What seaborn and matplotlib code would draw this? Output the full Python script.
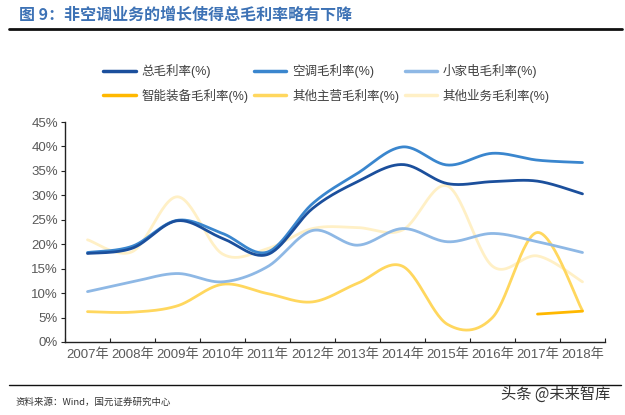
import numpy as np
import pandas as pd
import seaborn as sns
import matplotlib.pyplot as plt
from matplotlib.lines import Line2D

# data (percent)
years = ['2007年', '2008年', '2009年', '2010年', '2011年', '2012年',
         '2013年', '2014年', '2015年', '2016年', '2017年', '2018年']
total_margin = [18.1, 19.2, 24.8, 21.2, 17.9, 27.3, 32.8, 36.3, 32.4, 32.8, 32.9, 30.3]
ac_margin = [18.3, 19.6, 24.9, 22.2, 18.4, 28.3, 34.5, 39.9, 36.2, 38.6, 37.2, 36.7]
appliance_margin = [10.3, 12.3, 14.0, 12.3, 15.4, 22.8, 19.8, 23.2, 20.5, 22.2, 20.5, 18.3]
robot_margin = [None] * 10 + [5.7, 6.3]
other_main_margin = [6.2, 6.1, 7.4, 11.8, 9.9, 8.2, 12.0, 15.5, 3.6, 5.0, 22.4, 6.4]
other_biz_margin = [20.9, 18.5, 29.7, 18.0, 19.1, 23.2, 23.4, 22.9, 31.9, 15.5, 17.6, 12.3]

series_names = ['总毛利率(%)', '空调毛利率(%)', '小家电毛利率(%)',
                '智能装备毛利率(%)', '其他主营毛利率(%)', '其他业务毛利率(%)']
series_values = [total_margin, ac_margin, appliance_margin,
                 robot_margin, other_main_margin, other_biz_margin]
colors = ['#1B4F9C', '#3A86CE', '#8EB8E5', '#FFB800', '#FFD75E', '#FFF0C6']


def smooth(xs, ys, n=30):
    # Excel-style smoothed line (Catmull-Rom bezier through every point)
    xs = np.asarray(xs, float)
    ys = np.asarray(ys, float)
    if len(xs) < 3:
        return xs, ys
    px = np.concatenate([[xs[0]], xs, [xs[-1]]])
    py = np.concatenate([[ys[0]], ys, [ys[-1]]])
    outx, outy = [], []
    t = np.linspace(0, 1, n)
    for i in range(1, len(px) - 2):
        p0 = np.array([px[i], py[i]])
        p3 = np.array([px[i + 1], py[i + 1]])
        p1 = p0 + (np.array([px[i + 1], py[i + 1]]) - np.array([px[i - 1], py[i - 1]])) / 6
        p2 = p3 - (np.array([px[i + 2], py[i + 2]]) - np.array([px[i], py[i]])) / 6
        b = ((1 - t) ** 3)[:, None] * p0 + (3 * (1 - t) ** 2 * t)[:, None] * p1 \
            + (3 * (1 - t) * t ** 2)[:, None] * p2 + (t ** 3)[:, None] * p3
        outx.extend(b[:, 0])
        outy.extend(b[:, 1])
    return np.array(outx), np.array(outy)


rows = []
for name, vals in zip(series_names, series_values):
    idx = [i for i, v in enumerate(vals) if v is not None]
    sx, sy = smooth(idx, [vals[i] for i in idx])
    for k, (a, b) in enumerate(zip(sx, sy)):
        rows.append({'series': name, 'order': k, 'x': a, 'y': b})
df = pd.DataFrame(rows)

sns.set_theme(style='white')
plt.rcParams['font.family'] = ['Liberation Sans', 'Noto Sans CJK SC', 'DejaVu Sans']

fig = plt.figure(figsize=(6.25, 4.15), dpi=100)
ax = fig.add_axes([0.104, 0.176, 0.864, 0.530])

# lighter lines first so the dark ones sit on top
draw_order = [5, 4, 3, 2, 1, 0]
for i in draw_order:
    name = series_names[i]
    sns.lineplot(data=df[df['series'] == name], x='x', y='y', sort=False,
                 color=colors[i], linewidth=2.0, ax=ax, legend=False)

ax.set_xlim(-0.5, len(years) - 0.5)
ax.set_ylim(0, 45)
ax.set_yticks(range(0, 46, 5))
ax.set_yticklabels([f'{v}%' for v in range(0, 46, 5)])
ax.set_xticks(range(len(years)))
ax.set_xticklabels(years)
ax.set_xticks(np.arange(-0.5, len(years), 1), minor=True)
ax.set_xlabel('')
ax.set_ylabel('')

for s in ['top', 'right']:
    ax.spines[s].set_visible(False)
for s in ['left', 'bottom']:
    ax.spines[s].set_color('#222222')
    ax.spines[s].set_linewidth(1.0)

ax.tick_params(axis='y', which='major', direction='out', length=3, width=0.8,
               color='#222222', labelsize=9.5, labelcolor='#595959', pad=2, left=True)
ax.tick_params(axis='x', which='major', length=0, labelsize=9.5,
               labelcolor='#595959', pad=5)
ax.tick_params(axis='x', which='minor', direction='in', length=3, width=0.8,
               color='#222222', bottom=True)
ax.grid(False)

# legend, two rows of three
handles = [Line2D([0], [0], color=c, linewidth=2.5) for c in colors]
order = [0, 3, 1, 4, 2, 5]
fig.legend([handles[i] for i in order], [series_names[i] for i in order],
           ncol=3, loc='center left', bbox_to_anchor=(0.165, 0.799), frameon=False,
           handlelength=2.6, handletextpad=0.45, columnspacing=0.45,
           labelspacing=0.85, labelcolor='#404040', borderpad=0, borderaxespad=0,
           prop={'family': ['Liberation Sans', 'Noto Sans CJK SC'], 'size': 9})

# title and rules
fig.text(0.030, 0.964, '图 9：非空调业务的增长使得总毛利率略有下降', fontsize=11.5,
         fontweight='bold', color='#3D72B5', va='center', ha='left',
         family=['Noto Sans CJK SC', 'DejaVu Sans'])
fig.add_artist(Line2D([0.014, 0.995], [0.930, 0.930], color='#111111', linewidth=2.0))
fig.add_artist(Line2D([0.014, 0.993], [0.072, 0.072], color='#111111', linewidth=1.0))
fig.text(0.025, 0.031, '资料来源：Wind，国元证券研究中心', fontsize=6.8, color='#333333',
         va='center', ha='left', family=['Noto Sans CJK SC', 'DejaVu Sans'])
fig.text(0.976, 0.050, '头条 @未来智库', fontsize=11, color='#333333',
         va='center', ha='right', family=['Noto Sans CJK SC', 'DejaVu Sans'])

fig.savefig('out.png', dpi=100)
